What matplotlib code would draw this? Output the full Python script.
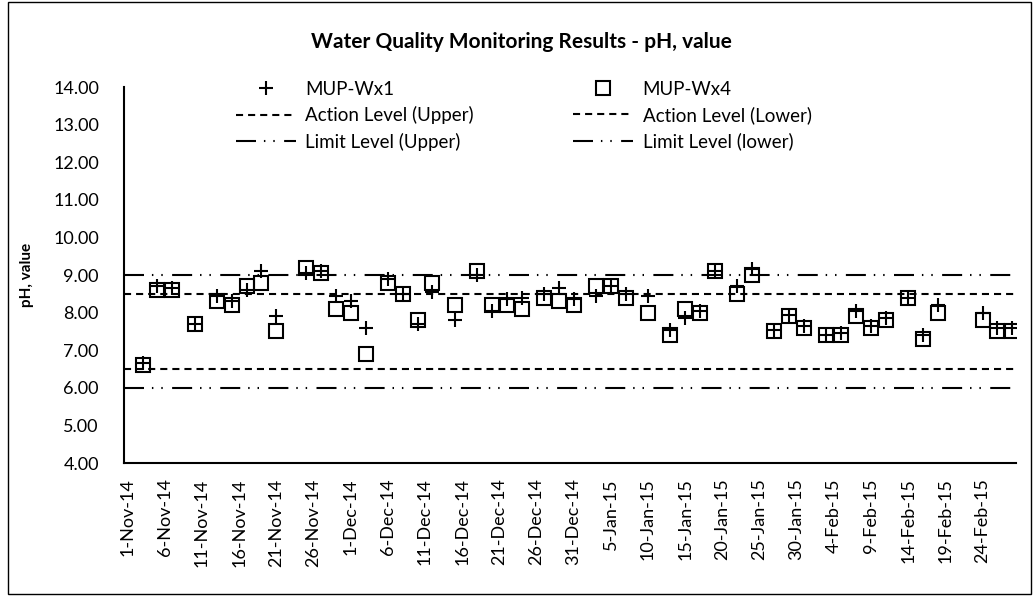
import matplotlib
matplotlib.use('Agg')
import matplotlib.pyplot as plt
from matplotlib.lines import Line2D
from matplotlib.patches import Rectangle
import pandas as pd

plt.rcParams['font.family'] = ['Lato', 'DejaVu Sans']

# fechas de muestreo y resultados de pH
fechas = ['3-Nov-14', '5-Nov-14', '7-Nov-14', '10-Nov-14', '13-Nov-14', '15-Nov-14',
          '17-Nov-14', '19-Nov-14', '21-Nov-14', '25-Nov-14', '27-Nov-14', '29-Nov-14',
          '1-Dec-14', '3-Dec-14', '6-Dec-14', '8-Dec-14', '10-Dec-14', '12-Dec-14',
          '15-Dec-14', '18-Dec-14', '20-Dec-14', '22-Dec-14', '24-Dec-14', '27-Dec-14',
          '29-Dec-14', '31-Dec-14', '3-Jan-15', '5-Jan-15', '7-Jan-15', '10-Jan-15',
          '13-Jan-15', '15-Jan-15', '17-Jan-15', '19-Jan-15', '22-Jan-15', '24-Jan-15',
          '27-Jan-15', '29-Jan-15', '31-Jan-15', '3-Feb-15', '5-Feb-15', '7-Feb-15',
          '9-Feb-15', '11-Feb-15', '14-Feb-15', '16-Feb-15', '18-Feb-15', '24-Feb-15',
          '26-Feb-15', '28-Feb-15']
wx1 = [6.65, 8.70, 8.65, 7.70, 8.45, 8.30, 8.60, 9.10, 7.90, 9.05, 9.10, 8.45,
       8.30, 7.60, 8.90, 8.50, 7.70, 8.55, 7.80, 9.00, 8.05, 8.35, 8.40, 8.50,
       8.65, 8.35, 8.45, 8.70, 8.50, 8.45, 7.55, 7.85, 8.05, 9.10, 8.70, 9.15,
       7.55, 7.95, 7.65, 7.40, 7.45, 8.05, 7.65, 7.85, 8.40, 7.40, 8.20, 8.00,
       7.60, 7.60]
wx4 = [6.60, 8.60, 8.60, 7.70, 8.30, 8.20, 8.70, 8.80, 7.50, 9.20, 9.05, 8.10,
       8.00, 6.90, 8.80, 8.50, 7.80, 8.80, 8.20, 9.10, 8.20, 8.20, 8.10, 8.40,
       8.30, 8.20, 8.70, 8.70, 8.40, 8.00, 7.40, 8.10, 8.00, 9.10, 8.50, 9.00,
       7.50, 7.90, 7.60, 7.40, 7.40, 7.90, 7.60, 7.80, 8.40, 7.30, 8.00, 7.80,
       7.50, 7.50]
accion_sup, accion_inf = 8.5, 6.5
limite_sup, limite_inf = 9.0, 6.0

x = pd.to_datetime(fechas, format='%d-%b-%y')

ls_accion = (0, (3.4, 2.4))
ls_limite = (0, (9.6, 3.8, 0.7, 3.8, 0.7, 4.5))

fig = plt.figure(figsize=(10.33, 5.96), dpi=100)
ax = fig.add_axes([0.120, 0.223, 0.8635, 0.631])

ax.axhline(accion_sup, color='black', lw=1.5, ls=ls_accion)
ax.axhline(accion_inf, color='black', lw=1.5, ls=ls_accion)
ax.axhline(limite_sup, color='black', lw=1.5, ls=ls_limite)
ax.axhline(limite_inf, color='black', lw=1.5, ls=ls_limite)
ax.plot(x, wx1, ls='none', marker='+', ms=10, mew=1.5, color='black', zorder=4)
ax.plot(x, wx4, ls='none', marker='s', ms=10, mew=1.5, mfc='none', mec='black', zorder=3)

ax.set_xlim(pd.Timestamp('2014-10-31 12:00'), pd.Timestamp('2015-02-28 12:00'))
ax.set_ylim(4, 14)
ax.set_yticks(range(4, 15))
ax.yaxis.set_major_formatter(matplotlib.ticker.FormatStrFormatter('%.2f'))
ticks = pd.date_range('2014-11-01', '2015-02-24', freq='5D')
ax.set_xticks(ticks)
ax.set_xticklabels([f'{t.day}-{t.strftime("%b-%y")}' for t in ticks], rotation=90)
ax.tick_params(axis='y', length=0, pad=18, labelsize=13)
ax.tick_params(axis='x', length=0, pad=11, labelsize=13)
for s in ['top', 'right']:
    ax.spines[s].set_visible(False)
for s in ['left', 'bottom']:
    ax.spines[s].set_linewidth(1.5)
ax.set_ylabel('pH, value', fontsize=11, fontweight='bold', labelpad=14)

fig.text(0.505, 0.93, 'Water Quality Monitoring Results - pH, value', ha='center', va='center',
         fontsize=15, fontweight='bold')

h = [Line2D([], [], ls='none', marker='+', ms=10, mew=1.5, color='black'),
     Line2D([], [], color='black', lw=1.5, ls=ls_accion),
     Line2D([], [], color='black', lw=1.5, ls=ls_limite),
     Line2D([], [], ls='none', marker='s', ms=10, mew=1.5, mfc='none', mec='black'),
     Line2D([], [], color='black', lw=1.5, ls=ls_accion),
     Line2D([], [], color='black', lw=1.5, ls=ls_limite)]
lab = ['MUP-Wx1', 'Action Level (Upper)', 'Limit Level (Upper)',
       'MUP-Wx4', 'Action Level (Lower)', 'Limit Level (lower)']
fig.legend(h, lab, ncol=2, loc='upper left', bbox_to_anchor=(0.212, 0.893), frameon=False,
           fontsize=13.5, handlelength=3.2, handletextpad=0.5, columnspacing=5.3,
           labelspacing=0.45)

fig.add_artist(Rectangle((8 / 1033, 2 / 596), 1023 / 1033, 592 / 596, transform=fig.transFigure,
                         fill=False, edgecolor='black', lw=1))

plt.savefig('out.png', dpi=100)
